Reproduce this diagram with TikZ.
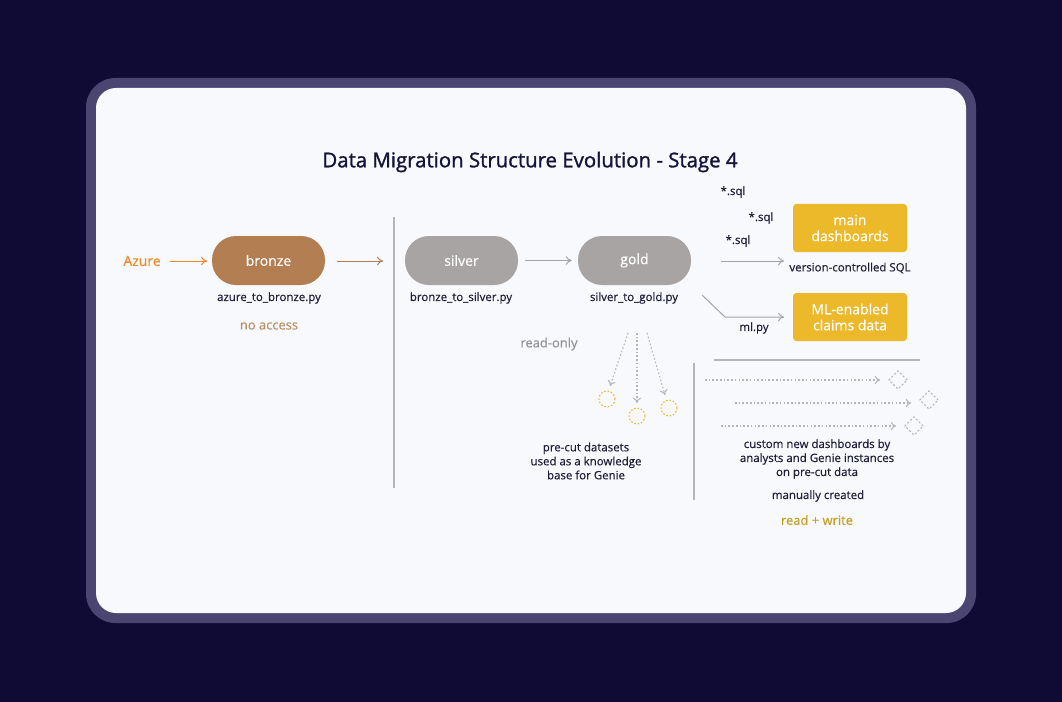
\documentclass[tikz,border=0pt]{standalone}
\usepackage{fontspec}
\setmainfont{Open Sans}[FakeBold=0.4]
\newfontfamily\titlefont{Open Sans}[FakeBold=1.3]
\usetikzlibrary{arrows.meta,shapes.geometric}
\definecolor{bgc}{HTML}{100B34}
\definecolor{framec}{HTML}{4B4571}
\definecolor{panelc}{HTML}{F8F9FC}
\definecolor{bronzec}{HTML}{B27E52}
\definecolor{pillc}{HTML}{A9A4A4}
\definecolor{yellowc}{HTML}{ECB92B}
\definecolor{textc}{HTML}{1F1E3A}
\definecolor{titlec}{HTML}{15133A}
\definecolor{azurec}{HTML}{EE8A2A}
\definecolor{noaccc}{HTML}{B89068}
\definecolor{rwc}{HTML}{C5A020}
\definecolor{linec}{HTML}{A3A3A6}
\definecolor{dotc}{HTML}{B5B5B8}
\tikzset{
  pill/.style={fill=#1, draw=none, rounded corners=18pt, minimum width=84.75pt, minimum height=36.75pt, text=white, font=\fontsize{10.5}{12}\selectfont, inner sep=0pt},
  ybox/.style={fill=yellowc, draw=none, rounded corners=2.5pt, minimum width=85.5pt, minimum height=36pt, text=white, font=\fontsize{10.5}{12}\selectfont, align=center, inner sep=0pt},
  lbl/.style={text=textc, font=\fontsize{8.6}{10.5}\selectfont, align=center, inner sep=0pt},
  arr/.style={draw=linec, line width=0.75pt, -{To[length=4.5pt,width=6.5pt]}},
  dotarr/.style={draw=dotc, line width=0.8pt, dash pattern=on 1.2pt off 1.6pt, -{To[length=4pt,width=6pt]}},
  dcirc/.style={circle, draw=yellowc, line width=0.8pt, dash pattern=on 1.2pt off 1.4pt, minimum size=12pt, inner sep=0pt},
  ddiam/.style={diamond, draw=dotc, line width=0.8pt, dash pattern=on 1.5pt off 1.5pt, minimum size=14pt, inner sep=0pt},
  sep/.style={draw=linec!80, line width=0.9pt}
}
\begin{document}
\begin{tikzpicture}[x=0.75pt,y=-0.75pt]
\useasboundingbox (0,0) rectangle (1062,702);
\fill[bgc] (0,0) rectangle (1062,702);
\fill[framec, rounded corners=22pt] (86,78) rectangle (976,623);
\fill[panelc, rounded corners=15pt] (96,88) rectangle (966,613);

\node[text=titlec, font=\titlefont\fontsize{15.3}{18}\selectfont] (title) at (530,162) {Data Migration Structure Evolution - Stage 4};

% left
\node[text=azurec, font=\fontsize{10.5}{12}\selectfont, inner sep=0pt] (azure) at (142,261) {Azure};
\node[pill=bronzec] (bronze) at (268.5,260.5) {bronze};
\node[lbl] (azpy) at (269,298) {azure\_to\_bronze.py};
\node[text=noaccc, font=\fontsize{9.7}{12}\selectfont, inner sep=0pt] (noacc) at (269,326) {no access};
\coordinate (azs) at (170,261);
\coordinate (aze) at (207,261);
\draw[arr, draw=azurec] (azs) -- (aze);
\coordinate (brs) at (337,261);
\coordinate (bre) at (383,261);
\draw[arr, draw=bronzec] (brs) -- (bre);

\coordinate (v1a) at (394,217);
\coordinate (v1b) at (394,488);
\draw[sep] (v1a) -- (v1b);

% middle
\node[pill=pillc] (silver) at (461.5,260.5) {silver};
\node[lbl] (silpy) at (461,298) {bronze\_to\_silver.py};
\node[pill=pillc] (gold) at (634.5,260.5) {gold};
\node[lbl] (goldpy) at (634,298) {silver\_to\_gold.py};
\draw[arr] ([xshift=5.25pt]silver.east) -- ([xshift=-4.5pt]gold.west);
\node[text=linec!90!black, font=\fontsize{9.7}{12}\selectfont, inner sep=0pt] (ro) at (549,344) {read-only};

% right top
\node[lbl] (sql1) at (733,192) {*.sql};
\node[lbl] (sql2) at (761,218) {*.sql};
\node[lbl] (sql3) at (738,241) {*.sql};
\node[ybox] (main) at (850,228) {main\\dashboards};
\node[lbl] (vcs) at (850,268) {version-controlled SQL};
\coordinate (sqls) at (721,261);
\coordinate (sqle) at (784,261);
\draw[arr] (sqls) -- (sqle);
\node[ybox] (ml) at (850,317) {ML-enabled\\claims data};
\coordinate (mls) at (702,295);
\coordinate (mlm) at (725,317);
\coordinate (mle) at (784,317);
\draw[arr] (mls) -- (mlm) -- (mle);
\node[lbl] (mlpy) at (754,328) {ml.py};

% pre-cut datasets
\node[dcirc] (c1) at (607,399) {};
\node[dcirc] (c2) at (637,416) {};
\node[dcirc] (c3) at (669,408) {};
\coordinate (d1) at (628,333);
\coordinate (d2) at (637,333);
\coordinate (d3) at (647,333);
\coordinate (t1) at (610,386);
\coordinate (t2) at (637,403);
\coordinate (t3) at (665,395);
\draw[dotarr] (d1) -- (t1);
\draw[dotarr] (d2) -- (t2);
\draw[dotarr] (d3) -- (t3);
\node[lbl] (pre) at (586,461) {pre-cut datasets\\used as a knowledge\\base for Genie};

% bottom right
\coordinate (v2a) at (694,363);
\coordinate (v2b) at (694,500);
\draw[sep] (v2a) -- (v2b);
\coordinate (h1a) at (714,360);
\coordinate (h1b) at (920,360);
\draw[sep] (h1a) -- (h1b);
\node[ddiam] (q1) at (898,380) {};
\node[ddiam] (q2) at (929,400) {};
\node[ddiam] (q3) at (914,426) {};
\coordinate (r1) at (705,380);
\coordinate (r2) at (735,403);
\coordinate (r3) at (721,426);
\draw[dotarr] (r1) -- ([xshift=-6pt]q1.west);
\draw[dotarr] (r2) -- ([xshift=-6pt]q2.west |- r2);
\draw[dotarr] (r3) -- ([xshift=-6pt]q3.west);
\node[lbl] (cust) at (817,459) {custom new dashboards by\\analysts and Genie instances\\on pre-cut data};
\node[lbl] (man) at (818,496) {manually created};
\node[text=rwc, font=\fontsize{9.7}{12}\selectfont, inner sep=0pt] (rw) at (817,520) {read + write};
\end{tikzpicture}
\end{document}
